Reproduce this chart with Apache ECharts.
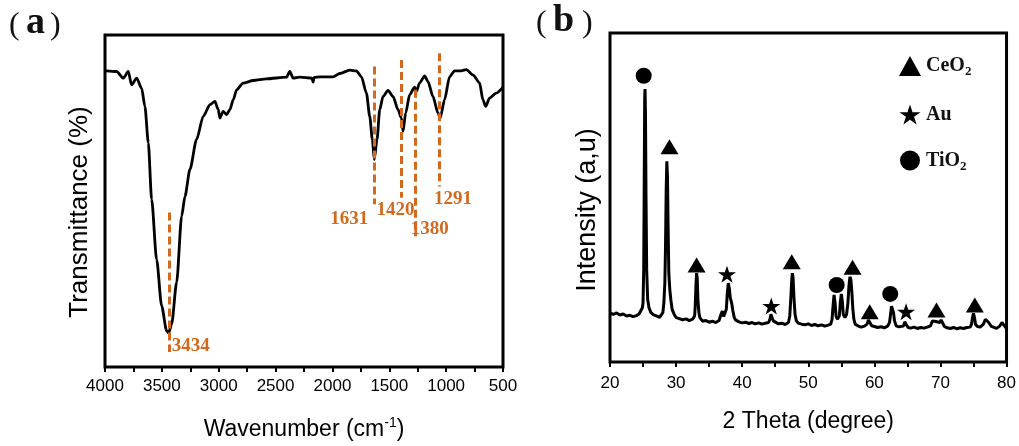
<!DOCTYPE html>
<html>
<head>
<meta charset="utf-8">
<script src="https://cdn.jsdelivr.net/npm/echarts@6/dist/echarts.min.js"></script>
<style>
html,body{margin:0;padding:0;background:#fff;}
#c{width:1019px;height:446px;}
</style>
</head>
<body>
<div id="c"></div>
<script>
// ---- Panel (a): FTIR ----
var ftirWavenumber = [4000,3897,3839,3795,3766,3722,3678,3649,3619,3590,3546,3502,3458,3440,3414,3370,3326,3297,3253,3195,3136,3077,3033,3004,2990,2961,2931,2902,2872,2843,2785,2697,2580,2404,2375,2346,2287,2180,2170,2160,2111,1994,1935,1848,1789,1745,1701,1672,1649,1632,1608,1584,1555,1511,1467,1423,1394,1379,1356,1321,1277,1262,1233,1189,1160,1116,1072,1052,1014,970,926,867,823,765,706,677,652,618,559,500];
var ftirTransmittance = [89.3,89.0,87.0,89.0,85.0,87.0,84.0,78.5,67.5,50.5,32.4,18.4,10.9,10.2,12.9,25.5,45.4,51.4,59.5,68.5,75.5,79.0,80.0,77.5,75.0,77.0,76.0,77.5,80.5,83.5,85.5,86.3,86.8,87.3,89.0,87.0,87.3,87.0,85.8,87.2,87.4,87.4,88.4,89.4,89.2,87.4,82.5,75.5,68.5,62.5,68.5,77.5,81.5,83.3,81.5,77.5,75.0,71.0,76.5,82.0,84.3,83.0,85.6,87.7,86.0,81.5,76.5,75.0,80.5,87.4,89.2,89.2,89.6,88.0,85.6,80.5,78.5,81.0,82.5,84.3];
var ftirTicks = [4000,3500,3000,2500,2000,1500,1000,500];
// dashed guide lines: position, top, bottom
var peakLineX = [3438,1634,1391,1274,1063];
var peakLineTop = [46.5,90.5,92.5,83.5,94.5];
var peakLineBottom = [4.5,49,51,39.4,54.4];
// peak labels
var peakLabels = ['3434','1631','1420','1380','1291'];
var peakLabelX = [3413,1684,1613,1311,1106];
var peakLabelY = [6.4,44.4,47.4,41.4,50.5];
var peakLabelAlign = ['left','right','left','left','left'];

// ---- Panel (b): XRD ----
var xrdTheta = [20.0,20.5,21.0,21.5,22.0,22.5,23.0,23.5,24.0,24.4,24.7,24.9,25.0,25.1,25.18,25.25,25.3,25.37,25.45,25.55,25.7,25.9,26.2,26.6,27.0,27.5,28.0,28.15,28.3,28.4,28.5,28.6,28.7,28.8,28.9,29.05,29.2,29.4,29.7,30.0,30.5,31.0,31.5,32.0,32.5,32.8,32.9,33.0,33.1,33.2,33.3,33.45,33.6,34.0,34.5,35.0,35.5,36.0,36.5,36.8,37.0,37.2,37.4,37.6,37.75,37.9,38.05,38.2,38.4,38.6,38.8,39.0,39.5,40.0,40.5,41.0,41.5,42.0,42.5,43.0,43.5,44.0,44.2,44.35,44.5,44.7,45.0,45.5,46.0,46.5,47.0,47.2,47.35,47.5,47.6,47.7,47.85,48.0,48.2,48.5,49.0,49.5,50.0,50.5,51.0,51.5,52.0,52.5,53.0,53.4,53.6,53.75,53.9,54.05,54.2,54.4,54.7,54.85,55.0,55.15,55.3,55.55,55.8,56.0,56.15,56.3,56.45,56.6,56.75,56.9,57.1,57.5,58.0,58.5,58.9,59.1,59.3,59.6,60.0,60.5,61.0,61.5,62.0,62.3,62.45,62.6,62.75,62.9,63.05,63.3,63.7,64.0,64.4,64.6,64.8,65.1,65.5,66.0,66.5,67.0,67.5,68.0,68.5,68.8,69.0,69.3,69.6,69.9,70.1,70.3,70.6,71.0,71.5,72.0,72.5,73.0,73.5,74.0,74.5,74.7,74.85,75.0,75.15,75.3,75.6,76.0,76.5,76.8,77.0,77.3,77.7,78.0,78.5,79.0,79.3,79.6,80.0];
var xrdIntensity = [14.8,14.5,14.9,14.3,14.6,14.0,14.2,13.8,14.1,14.6,15.2,16.5,18,28,55,80,83,75,50,28,19,16.5,15,14.3,14.0,13.6,15,18,24,35,52,61,56,40,27,22,19,16,14.5,13.5,13.2,12.8,13.1,12.6,13.0,14,17,23,27,25.5,19,15,13.5,12.4,12.6,12.1,12.4,12.0,12.6,14.5,15.5,13.8,14.2,16,21,24,22.5,19.5,18,15.5,13.5,12.8,12.2,11.9,12.1,11.7,12.0,11.6,11.9,11.5,11.8,12.0,13,14.5,14.2,12.5,11.9,11.6,11.8,11.4,12.0,14,19,25,27,25.5,19,14.5,12.5,11.8,11.5,11.3,11.6,11.1,11.4,11.0,11.3,10.9,11.2,11.5,13,17,20.4,18,14,13,14,18,20.7,18.5,14.5,13.5,14.5,18,23,25.9,25,21,16,13,11.5,11.0,10.6,10.9,11.5,12.8,12.2,11.0,10.8,10.5,10.7,10.4,10.9,12,14.5,17,17.3,15,12.5,11.0,10.7,10.5,10.9,12.2,11.5,10.5,10.3,10.6,10.2,10.5,10.3,10.6,11.0,12.5,12.8,12.3,12.5,12.0,12.8,12.2,10.8,10.4,10.2,10.5,10.1,10.4,10.2,10.5,10.6,11.5,13.5,14.8,13.5,11.5,10.8,10.6,11.5,13.0,13.5,12.0,10.8,10.5,10.2,11.0,12.0,11.2,10.2];
var xrdTicks = [20,30,40,50,60,70,80];
var ceo2Markers = [[29.0,65.4],[33.1,29.5],[47.5,30.5],[56.7,28.8],[59.3,15.3],[69.4,15.8],[75.2,17.3]];
var auMarkers = [[37.7,26.7],[44.4,17.0],[64.8,15.3]];
var tio2Markers = [[25.1,87.0],[54.3,23.4],[62.4,20.7]];
var phaseNames = ['CeO2','Au','TiO2'];

var ORANGE = '#D2691E';
var STAR = 'path://M50,0 L61.8,35.5 L99,35.5 L69,57.5 L80.5,93 L50,71 L19.5,93 L31,57.5 L1,35.5 L38.2,35.5 Z';

function pairs(xs, ys){ return xs.map(function(x,i){ return [x, ys[i]]; }); }
function plain(v){ return String(v); }

var lineData = pairs(ftirWavenumber, ftirTransmittance);
var guideLines = peakLineX.map(function(x,i){
  return [{coord:[x, peakLineTop[i]]},{coord:[x, peakLineBottom[i]]}];
});
var labelData = peakLabels.map(function(t,i){
  return {value:[peakLabelX[i], peakLabelY[i]], name:t,
    label:{show:true, formatter:t, position:peakLabelAlign[i]==='left'?'right':'left', distance:0}};
});

var xNameStyle = {fontFamily:'Liberation Sans, Arial', fontSize:23, color:'#000'};
var tickLabelStyle = {fontFamily:'Liberation Sans, Arial', fontSize:17, color:'#000'};

var chart = echarts.init(document.getElementById('c'), null, {renderer:'canvas'});
chart.setOption({
  animation:false,
  backgroundColor:'#fff',
  grid:[
    {left:105, top:35, width:398, height:333, show:true, borderColor:'#000', borderWidth:3},
    {left:610, top:33, width:397, height:329, show:true, borderColor:'#000', borderWidth:3}
  ],
  graphic:[
    {type:'text', left:9, top:10, style:{text:'(', font:'32px Liberation Serif', fill:'#111'}},
    {type:'text', left:26, top:4, style:{text:'a', font:'bold 38px Liberation Serif', fill:'#111'}},
    {type:'text', left:50, top:10, style:{text:')', font:'32px Liberation Serif', fill:'#111'}},
    {type:'text', left:536, top:8, style:{text:'(', font:'32px Liberation Serif', fill:'#111'}},
    {type:'text', left:553, top:2, style:{text:'b', font:'bold 38px Liberation Serif', fill:'#111'}},
    {type:'text', left:582, top:8, style:{text:')', font:'32px Liberation Serif', fill:'#111'}},
    {type:'text', x:80, y:212, rotation:Math.PI/2,
     style:{text:'Transmittance (%)', font:'26px Liberation Sans', fill:'#000', align:'center', verticalAlign:'middle'}},
    {type:'text', x:588, y:210, rotation:Math.PI/2,
     style:{text:'Intensity (a,u)', font:'27px Liberation Sans', fill:'#000', align:'center', verticalAlign:'middle'}}
  ],
  legend:{
    show:true, orient:'vertical', left:894, top:51, itemWidth:22, itemHeight:20, itemGap:26,
    data:phaseNames,
    textStyle:{fontFamily:'Liberation Serif', fontWeight:'bold', fontSize:20, color:'#111',
      rich:{m:{fontFamily:'Liberation Serif', fontWeight:'bold', fontSize:20, color:'#111'},
            s:{fontFamily:'Liberation Serif', fontWeight:'bold', fontSize:13, color:'#111', padding:[12,0,0,0]}}},
    formatter:function(n){
      if(n==='CeO2') return '{m|CeO}{s|2}';
      if(n==='TiO2') return '{m|TiO}{s|2}';
      return '{m|'+n+'}';
    }
  },
  xAxis:[
    {gridIndex:0, type:'value', min:500, max:4000, interval:500, inverse:true,
     axisLine:{show:false}, splitLine:{show:false},
     axisTick:{show:true, inside:false, length:5, lineStyle:{color:'#000', width:2}},
     minorTick:{show:true, splitNumber:2, length:5, lineStyle:{color:'#000', width:2}},
     axisLabel:Object.assign({margin:11, customValues:ftirTicks, formatter:plain}, tickLabelStyle),
     name:'Wavenumber (cm{sup|-1})', nameLocation:'middle', nameGap:49,
     nameTextStyle:Object.assign({rich:{sup:{fontFamily:'Liberation Sans, Arial', fontSize:14, color:'#000', padding:[0,0,13,0]}}}, xNameStyle)},
    {gridIndex:1, type:'value', min:20, max:80, interval:10,
     axisLine:{show:false}, splitLine:{show:false},
     axisTick:{show:true, inside:false, length:5, lineStyle:{color:'#000', width:2}},
     minorTick:{show:true, splitNumber:2, length:5, lineStyle:{color:'#000', width:2}},
     axisLabel:Object.assign({margin:13, customValues:xrdTicks, formatter:plain}, tickLabelStyle),
     name:'2 Theta (degree)', nameLocation:'middle', nameGap:48, nameTextStyle:xNameStyle}
  ],
  yAxis:[
    {gridIndex:0, type:'value', min:0, max:100, axisLine:{show:false}, axisTick:{show:false},
     axisLabel:{show:false}, splitLine:{show:false}},
    {gridIndex:1, type:'value', min:0, max:100, axisLine:{show:false}, axisTick:{show:false},
     axisLabel:{show:false}, splitLine:{show:false}}
  ],
  series:[
    {type:'line', xAxisIndex:0, yAxisIndex:0, data:lineData, showSymbol:false, smooth:0.25, smoothMonotone:'x',
     lineStyle:{color:'#000', width:2.8}, z:2,
     markLine:{silent:true, symbol:'none', label:{show:false},
       lineStyle:{color:ORANGE, width:3, type:[8,4], opacity:1}, data:guideLines}},
    {type:'scatter', xAxisIndex:0, yAxisIndex:0, data:labelData, symbolSize:0, silent:true, z:5,
     itemStyle:{opacity:1},
     label:{show:true, color:ORANGE, opacity:1, fontFamily:'Liberation Serif', fontWeight:'bold', fontSize:19}},
    {type:'line', xAxisIndex:1, yAxisIndex:1, data:pairs(xrdTheta, xrdIntensity), showSymbol:false,
     lineStyle:{color:'#000', width:3}, z:2},
    {type:'scatter', name:'CeO2', xAxisIndex:1, yAxisIndex:1, data:ceo2Markers, symbol:'triangle',
     symbolSize:[18,15], itemStyle:{color:'#000', opacity:1}, z:4},
    {type:'scatter', name:'Au', xAxisIndex:1, yAxisIndex:1, data:auMarkers, symbol:STAR,
     symbolSize:[18,17], itemStyle:{color:'#000', opacity:1}, z:4},
    {type:'scatter', name:'TiO2', xAxisIndex:1, yAxisIndex:1, data:tio2Markers, symbol:'circle',
     symbolSize:16, itemStyle:{color:'#000', opacity:1}, z:4}
  ]
});
</script>
</body>
</html>
